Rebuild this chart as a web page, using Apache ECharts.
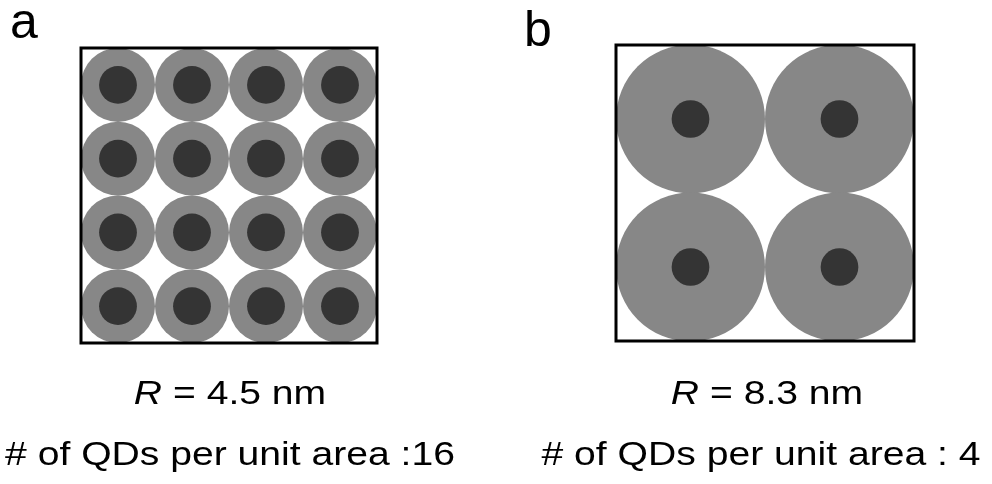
<!DOCTYPE html>
<html>
<head>
<meta charset="utf-8">
<script src="https://cdn.jsdelivr.net/npm/echarts@6/dist/echarts.min.js"></script>
<style>
  html, body { margin: 0; padding: 0; background: #ffffff; }
  #chart { width: 992px; height: 484px; }
</style>
</head>
<body>
<div id="chart"></div>
<script>
// Two packing schemes of core/shell quantum dots inside the same unit area.
const panelLabels = ['a', 'b'];
const qdRadiusNm = [4.5, 8.3];      // outer radius R of each dot
const coreRadiusNm = [2.3, 2.1];    // dark core radius
const qdsPerUnitArea = [16, 4];
const countSeparators = [':', ': '];

const FONT = '"Liberation Sans", Arial, sans-serif';
const SHELL_COLOR = '#878787';
const CORE_COLOR = '#343434';

// Layout of the two square plotting areas (pixels).
const gridRects = [
  { left: 81, top: 48, width: 296, height: 295 },
  { left: 616, top: 45, width: 298, height: 296 }
];

const chart = echarts.init(document.getElementById('chart'), null, { renderer: 'canvas' });

const grids = [], xAxes = [], yAxes = [], series = [], graphics = [];

panelLabels.forEach((label, p) => {
  const R = qdRadiusNm[p];
  const perSide = Math.round(Math.sqrt(qdsPerUnitArea[p]));
  const side = 2 * R * perSide;   // edge length of the unit area in nm

  grids.push(Object.assign({ show: false }, gridRects[p]));
  xAxes.push({ type: 'value', gridIndex: p, min: 0, max: side, show: false });
  yAxes.push({ type: 'value', gridIndex: p, min: 0, max: side, show: false, inverse: true });

  // dot centres on a square lattice with pitch 2R
  const centres = [];
  for (let j = 0; j < perSide; j++) {
    for (let i = 0; i < perSide; i++) {
      centres.push([(2 * i + 1) * R, (2 * j + 1) * R]);
    }
  }

  series.push({
    type: 'custom',
    xAxisIndex: p,
    yAxisIndex: p,
    clip: false,
    silent: true,
    z: 2,
    data: centres,
    renderItem(params, api) {
      const c = api.coord([api.value(0), api.value(1)]);
      const rShell = api.size([R, R])[0];
      const rCore = api.size([coreRadiusNm[p], coreRadiusNm[p]])[0];
      return {
        type: 'group',
        children: [
          { type: 'circle', shape: { cx: c[0], cy: c[1], r: rShell }, style: { fill: SHELL_COLOR } },
          { type: 'circle', shape: { cx: c[0], cy: c[1], r: rCore }, style: { fill: CORE_COLOR } }
        ]
      };
    }
  });

  // outline of the unit area, drawn above the dots
  series.push({
    type: 'custom',
    xAxisIndex: p,
    yAxisIndex: p,
    clip: false,
    silent: true,
    z: 5,
    data: [[0, 0, side]],
    renderItem(params, api) {
      const a = api.coord([0, 0]);
      const b = api.coord([api.value(2), api.value(2)]);
      return {
        type: 'rect',
        shape: { x: a[0], y: a[1], width: b[0] - a[0], height: b[1] - a[1] },
        style: { fill: null, stroke: '#000000', lineWidth: 3 }
      };
    }
  });
});

// panel letters
graphics.push(
  { type: 'text', x: 10, y: 24, style: { text: panelLabels[0], font: '50px ' + FONT, fill: '#000', align: 'left', verticalAlign: 'middle' } },
  { type: 'text', x: 524, y: 32, style: { text: panelLabels[1], font: '50px ' + FONT, fill: '#000', align: 'left', verticalAlign: 'middle' } }
);

// captions under each panel
const captionX = [[230, 230], [767, 761]];
panelLabels.forEach((label, p) => {
  graphics.push({
    type: 'text',
    x: captionX[p][0],
    y: 395,
    scaleX: 1.15,
    style: {
      text: '{i|R} = ' + qdRadiusNm[p].toFixed(1) + ' nm',
      rich: { i: { fontStyle: 'italic', fontSize: 34, fontFamily: FONT, fill: '#000' } },
      fontSize: 34,
      fontFamily: FONT,
      fill: '#000',
      align: 'center',
      verticalAlign: 'middle'
    }
  });
  graphics.push({
    type: 'text',
    x: captionX[p][1],
    y: 456,
    scaleX: 1.15,
    style: {
      text: '# of QDs per unit area ' + countSeparators[p] + qdsPerUnitArea[p],
      fontSize: 34,
      fontFamily: FONT,
      fill: '#000',
      align: 'center',
      verticalAlign: 'middle'
    }
  });
});

chart.setOption({
  backgroundColor: '#ffffff',
  animation: false,
  grid: grids,
  xAxis: xAxes,
  yAxis: yAxes,
  series: series,
  graphic: graphics
});
</script>
</body>
</html>
